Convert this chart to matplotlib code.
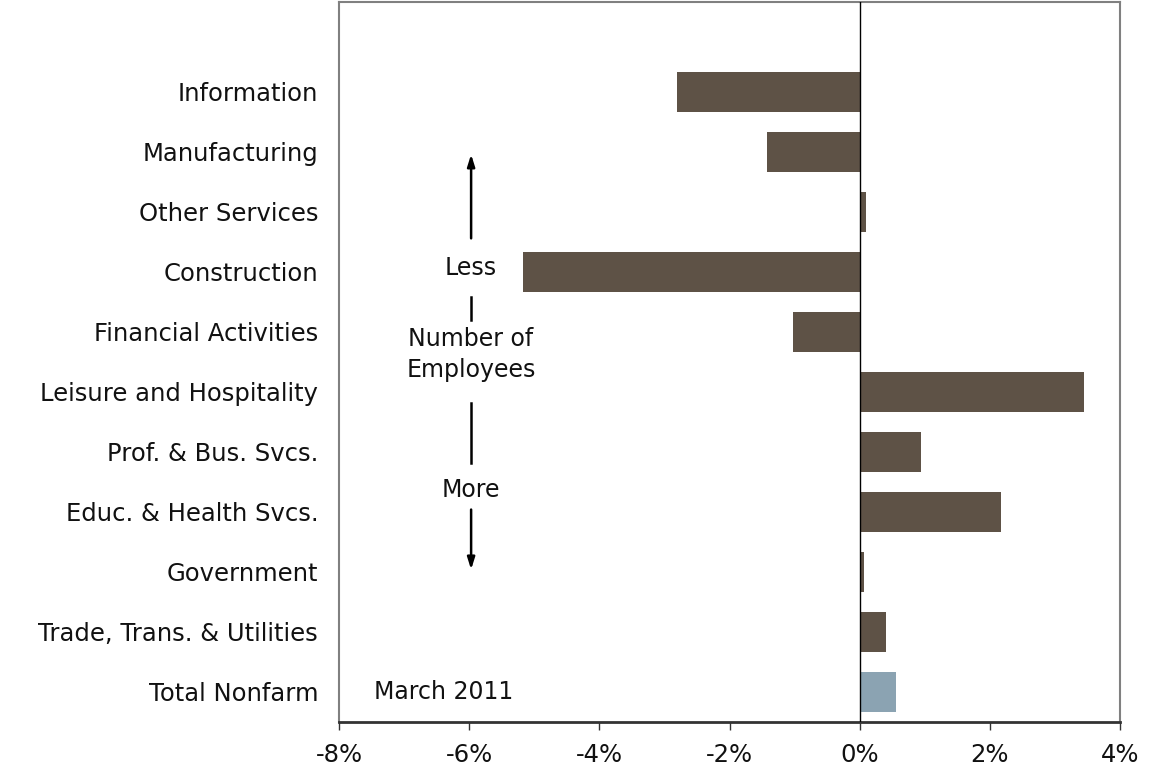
import matplotlib.pyplot as plt

# industries, bottom to top
industries = ["Total Nonfarm", "Trade, Trans. & Utilities", "Government",
              "Educ. & Health Svcs.", "Prof. & Bus. Svcs.", "Leisure and Hospitality",
              "Financial Activities", "Construction", "Other Services",
              "Manufacturing", "Information"]
changes = [0.565, 0.41, 0.07, 2.17, 0.94, 3.45, -1.02, -5.18, 0.10, -1.42, -2.80]
tick_vals = [-8, -6, -4, -2, 0, 2, 4]
tick_labels = ["-8%", "-6%", "-4%", "-2%", "0%", "2%", "4%"]

bar_color = "#5e5246"
total_color = "#8ba3b2"
text_color = "#111111"

plt.rcParams["font.family"] = ["DejaVu Sans"]

fig = plt.figure(figsize=(11.53, 7.79), dpi=100)
ax = fig.add_axes([0.294, 0.0732, 0.6774, 0.9243])

colors = [total_color] + [bar_color] * (len(industries) - 1)
ypos = list(range(len(industries)))
ax.barh(ypos, changes, height=0.68, color=colors, zorder=2)

ax.axvline(0, color="black", linewidth=1.0, zorder=3)

ax.set_xlim(-8, 4)
ax.set_ylim(-0.5, 11.5)
ax.set_yticks(ypos)
ax.set_yticklabels(industries, fontsize=17.5, color=text_color)
ax.tick_params(axis="y", length=0, pad=15)
ax.set_xticks(tick_vals)
ax.set_xticklabels(tick_labels, fontsize=17.5, color=text_color)
ax.tick_params(axis="x", direction="out", length=6, width=1, color="#333333", pad=9)

for side in ["top", "left", "right"]:
    ax.spines[side].set_color("#808080")
    ax.spines[side].set_linewidth(1.5)
ax.spines["bottom"].set_color("#333333")
ax.spines["bottom"].set_linewidth(2)

# direction guide
arrow_x = -5.97
head = "-|>,head_width=0.22,head_length=0.7"
ax.annotate("", xy=(arrow_x, 8.96), xytext=(arrow_x, 7.56),
            arrowprops=dict(arrowstyle=head, color="black", lw=1.8,
                            shrinkA=0, shrinkB=0))
ax.plot([arrow_x, arrow_x], [6.2, 6.58], color="black", lw=1.8)
ax.plot([arrow_x, arrow_x], [3.82, 4.82], color="black", lw=1.8)
ax.annotate("", xy=(arrow_x, 2.04), xytext=(arrow_x, 3.04),
            arrowprops=dict(arrowstyle=head, color="black", lw=1.8,
                            shrinkA=0, shrinkB=0))
ax.text(arrow_x, 7.06, "Less", fontsize=17, color=text_color, ha="center", va="center")
ax.text(arrow_x, 5.62, "Number of\nEmployees", fontsize=17, color=text_color,
        ha="center", va="center", linespacing=1.35)
ax.text(arrow_x, 3.36, "More", fontsize=17, color=text_color, ha="center", va="center")
ax.text(-7.46, 0.0, "March 2011", fontsize=17, color=text_color, ha="left", va="center")

plt.savefig("out.png", dpi=100, facecolor="white")
plt.close()
